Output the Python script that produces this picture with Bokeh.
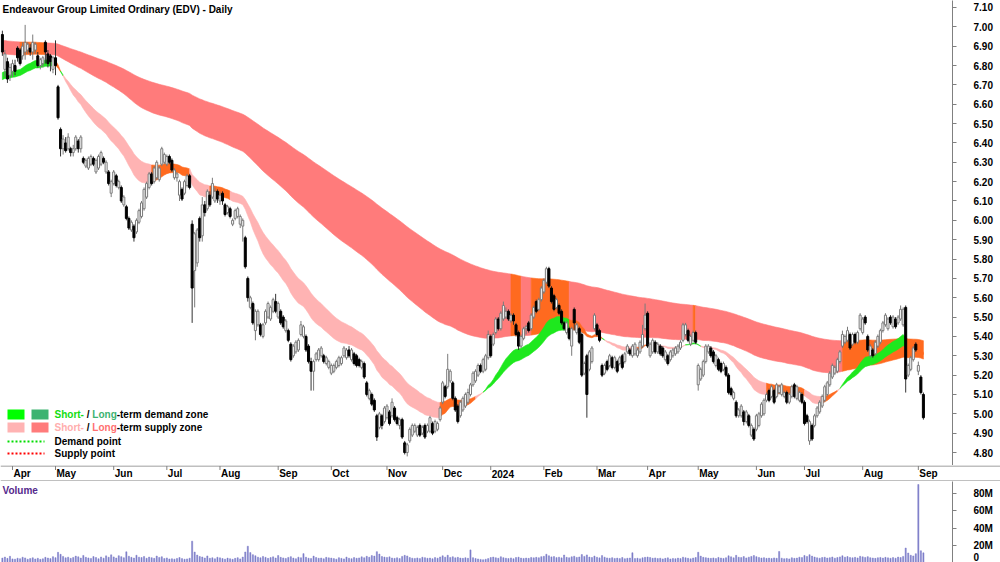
import pandas as pd
from bokeh.plotting import figure
from bokeh.models import Range1d, FixedTicker, NumeralTickFormatter, Label, Span
from bokeh.layouts import column
from bokeh.embed import file_html
from bokeh.resources import INLINE
from bokeh.core.properties import value

FONT = "Liberation Sans"
TITLE = "Endeavour Group Limited Ordinary (EDV) - Daily"

# ---------------- data (daily, 28 Mar 2023 .. 4 Sep 2024) ----------------
opens = [
    6.96, 6.78, 6.82, 6.75,
    6.77, 6.80, 6.89, 6.88, 6.85, 6.87, 6.88, 6.89, 6.87, 6.88, 6.85, 6.80, 6.81, 6.92, 6.86, 6.85, 6.78,
    6.84, 6.69, 6.47, 6.37, 6.40, 6.37, 6.37, 6.35, 6.37, 6.41, 6.37, 6.32, 6.28, 6.27, 6.29, 6.32, 6.25, 6.27, 6.29, 6.32, 6.25, 6.25, 6.14,
    6.19, 6.23, 6.17, 6.17, 6.08, 6.07, 6.01, 5.95, 5.97, 5.94, 5.99, 6.02, 6.06, 6.12, 6.17, 6.24, 6.20, 6.22, 6.21, 6.29, 6.30,
    6.29, 6.33, 6.31, 6.22, 6.22, 6.13, 6.16, 6.14, 6.18, 6.23, 5.98, 5.74, 5.78, 6.01, 5.92, 6.08, 6.06, 6.13, 6.12, 6.10, 6.15,
    6.10, 6.14, 6.08, 6.04, 6.06, 5.98, 6.01, 6.02, 5.98, 5.97, 5.91, 5.70, 5.55, 5.57, 5.43, 5.46, 5.46, 5.40, 5.47, 5.50, 5.49, 5.53, 5.58,
    5.50, 5.53, 5.50, 5.43, 5.43, 5.36, 5.30, 5.32, 5.33, 5.41, 5.40, 5.40, 5.35, 5.27, 5.22, 5.28, 5.28, 5.30, 5.30, 5.26, 5.24,
    5.21, 5.22, 5.24, 5.25, 5.26, 5.30, 5.29, 5.33, 5.28, 5.31, 5.30, 5.28, 5.24, 5.26, 5.16, 5.08, 5.10, 5.07, 4.99, 4.93, 4.99, 4.96,
    4.98, 5.01, 4.99, 5.03, 4.98, 4.94, 4.97, 4.85, 4.80, 4.86, 4.89, 4.91, 4.89, 4.94, 4.90, 4.94, 4.91, 4.91, 4.95, 4.91, 4.92, 4.97,
    5.06, 5.14, 5.14, 5.17, 5.16, 5.08, 5.04, 4.99, 5.02, 5.04, 5.06, 5.10, 5.15, 5.17, 5.20, 5.25, 5.22, 5.23, 5.29,
    5.40, 5.36, 5.42, 5.49, 5.44, 5.49, 5.50, 5.53, 5.48, 5.51, 5.46, 5.42, 5.35, 5.39, 5.44, 5.47, 5.44, 5.50, 5.58, 5.54, 5.59,
    5.63, 5.68, 5.75, 5.65, 5.61, 5.55, 5.56, 5.53, 5.47, 5.42, 5.44, 5.35, 5.54, 5.42, 5.44, 5.41, 5.21, 5.30, 5.23, 5.27, 5.44,
    5.46, 5.43, 5.25, 5.21, 5.27, 5.25, 5.29, 5.24, 5.27, 5.26, 5.30, 5.27, 5.32, 5.33, 5.30, 5.31, 5.30, 5.32, 5.35, 5.44,
    5.52, 5.30, 5.32, 5.37, 5.32, 5.35, 5.34, 5.28, 5.30, 5.28, 5.30, 5.31, 5.32, 5.34, 5.38, 5.41, 5.43, 5.36, 5.38, 5.42,
    5.15, 5.18, 5.20, 5.27, 5.32, 5.34, 5.32, 5.25, 5.28, 5.26, 5.23, 5.24, 5.20, 5.13, 5.08, 5.06, 4.99, 4.99, 5.01, 4.96, 4.99, 4.89, 4.92,
    4.92, 4.94, 4.99, 5.00, 5.07, 5.12, 5.09, 5.12, 5.09, 5.11, 5.10, 5.09, 5.11, 5.06, 5.09, 5.15, 5.08, 5.07, 5.10,
    5.06, 4.99, 4.86, 4.94, 4.94, 4.99, 5.01, 5.04, 5.07, 5.10, 5.15, 5.19, 5.21, 5.22, 5.27, 5.35, 5.37, 5.38, 5.41, 5.36, 5.41, 5.37, 5.44,
    5.42, 5.50, 5.40, 5.30, 5.33, 5.31, 5.35, 5.37, 5.43, 5.46, 5.44, 5.50, 5.45, 5.49, 5.47, 5.49, 5.46, 5.55, 5.20, 5.23, 5.28, 5.36,
    5.22, 5.19, 5.10,
]
highs = [
    6.98, 6.88, 6.84, 6.81,
    6.83, 6.83, 6.90, 6.89, 6.92, 7.01, 6.92, 6.91, 6.96, 6.92, 6.87, 6.84, 6.85, 6.93, 6.88, 6.86, 6.85,
    6.93, 6.70, 6.48, 6.44, 6.43, 6.45, 6.38, 6.39, 6.44, 6.42, 6.44, 6.33, 6.32, 6.33, 6.34, 6.33, 6.32, 6.34, 6.36, 6.33, 6.31, 6.26, 6.21,
    6.26, 6.24, 6.21, 6.18, 6.13, 6.08, 6.02, 6.00, 5.98, 6.01, 6.06, 6.10, 6.17, 6.20, 6.25, 6.25, 6.28, 6.31, 6.28, 6.38, 6.35,
    6.34, 6.34, 6.32, 6.27, 6.25, 6.21, 6.17, 6.21, 6.24, 6.24, 6.00, 5.94, 5.96, 6.02, 6.12, 6.10, 6.16, 6.15, 6.22, 6.17, 6.16,
    6.15, 6.15, 6.09, 6.08, 6.07, 6.01, 6.06, 6.07, 6.03, 6.01, 5.92, 5.71, 5.61, 5.58, 5.54, 5.54, 5.47, 5.47, 5.54, 5.58, 5.56, 5.60, 5.62,
    5.58, 5.54, 5.51, 5.49, 5.44, 5.37, 5.36, 5.38, 5.39, 5.48, 5.46, 5.41, 5.36, 5.29, 5.28, 5.32, 5.34, 5.35, 5.31, 5.30, 5.28,
    5.26, 5.26, 5.28, 5.30, 5.30, 5.35, 5.34, 5.35, 5.34, 5.32, 5.31, 5.29, 5.28, 5.27, 5.17, 5.13, 5.11, 5.08, 5.00, 5.01, 5.00, 5.04,
    5.05, 5.02, 5.08, 5.04, 4.99, 4.98, 4.98, 4.86, 4.85, 4.93, 4.95, 4.95, 4.94, 4.95, 4.94, 4.95, 4.95, 4.99, 4.96, 4.97, 4.96, 5.04,
    5.17, 5.15, 5.31, 5.23, 5.17, 5.09, 5.05, 5.07, 5.09, 5.11, 5.13, 5.16, 5.22, 5.23, 5.26, 5.26, 5.29, 5.31, 5.43,
    5.41, 5.42, 5.50, 5.50, 5.53, 5.58, 5.55, 5.54, 5.52, 5.52, 5.47, 5.43, 5.41, 5.45, 5.46, 5.48, 5.52, 5.56, 5.59, 5.60, 5.66,
    5.70, 5.76, 5.76, 5.66, 5.62, 5.60, 5.57, 5.54, 5.48, 5.48, 5.45, 5.45, 5.55, 5.47, 5.45, 5.42, 5.27, 5.31, 5.33, 5.35, 5.52,
    5.47, 5.44, 5.26, 5.26, 5.28, 5.31, 5.30, 5.30, 5.28, 5.30, 5.31, 5.32, 5.36, 5.34, 5.36, 5.37, 5.34, 5.38, 5.46, 5.57,
    5.53, 5.37, 5.39, 5.38, 5.37, 5.36, 5.35, 5.33, 5.31, 5.33, 5.34, 5.35, 5.36, 5.38, 5.47, 5.47, 5.44, 5.41, 5.43, 5.43,
    5.26, 5.24, 5.28, 5.36, 5.36, 5.35, 5.33, 5.31, 5.29, 5.27, 5.27, 5.25, 5.21, 5.14, 5.12, 5.07, 5.03, 5.05, 5.02, 5.02, 5.00, 4.95, 4.93,
    5.00, 5.01, 5.06, 5.08, 5.11, 5.13, 5.15, 5.13, 5.16, 5.15, 5.16, 5.12, 5.12, 5.11, 5.15, 5.16, 5.15, 5.12, 5.11,
    5.07, 5.00, 4.97, 4.95, 5.00, 5.04, 5.07, 5.10, 5.15, 5.17, 5.22, 5.26, 5.25, 5.29, 5.33, 5.43, 5.41, 5.45, 5.42, 5.42, 5.42, 5.43, 5.52,
    5.50, 5.51, 5.41, 5.36, 5.34, 5.38, 5.41, 5.44, 5.48, 5.52, 5.50, 5.51, 5.51, 5.50, 5.51, 5.56, 5.55, 5.56, 5.26, 5.30, 5.35, 5.37,
    5.27, 5.20, 5.11,
]
lows = [
    6.85, 6.74, 6.71, 6.72,
    6.74, 6.75, 6.82, 6.80, 6.83, 6.83, 6.86, 6.85, 6.83, 6.86, 6.79, 6.78, 6.79, 6.81, 6.79, 6.77, 6.76,
    6.75, 6.52, 6.33, 6.34, 6.35, 6.36, 6.33, 6.33, 6.36, 6.35, 6.35, 6.29, 6.27, 6.26, 6.28, 6.28, 6.24, 6.26, 6.28, 6.29, 6.24, 6.18, 6.12,
    6.18, 6.17, 6.16, 6.09, 6.07, 6.00, 5.95, 5.94, 5.89, 5.93, 5.98, 6.01, 6.05, 6.11, 6.16, 6.18, 6.19, 6.21, 6.20, 6.28, 6.29,
    6.28, 6.29, 6.25, 6.21, 6.20, 6.10, 6.10, 6.13, 6.17, 6.16, 5.47, 5.55, 5.76, 5.89, 5.89, 6.02, 6.05, 6.07, 6.11, 6.09, 6.09,
    6.08, 6.08, 6.02, 6.03, 6.01, 5.97, 6.00, 6.01, 5.96, 5.89, 5.75, 5.58, 5.54, 5.46, 5.38, 5.45, 5.40, 5.39, 5.46, 5.49, 5.48, 5.52, 5.52,
    5.49, 5.46, 5.44, 5.42, 5.37, 5.27, 5.29, 5.31, 5.32, 5.40, 5.39, 5.32, 5.26, 5.12, 5.12, 5.27, 5.27, 5.29, 5.26, 5.25, 5.23,
    5.20, 5.21, 5.23, 5.24, 5.25, 5.29, 5.28, 5.29, 5.27, 5.25, 5.24, 5.24, 5.23, 5.18, 5.09, 5.07, 5.04, 5.01, 4.86, 4.92, 4.92, 4.95,
    4.97, 4.94, 4.98, 4.96, 4.94, 4.92, 4.87, 4.79, 4.78, 4.85, 4.88, 4.90, 4.88, 4.88, 4.89, 4.87, 4.90, 4.90, 4.89, 4.90, 4.91, 4.96,
    5.05, 5.08, 5.13, 5.16, 5.07, 5.01, 4.95, 4.98, 5.01, 5.03, 5.05, 5.09, 5.14, 5.16, 5.19, 5.21, 5.21, 5.22, 5.28,
    5.29, 5.35, 5.41, 5.43, 5.43, 5.48, 5.49, 5.48, 5.47, 5.46, 5.40, 5.33, 5.34, 5.38, 5.41, 5.42, 5.43, 5.49, 5.52, 5.53, 5.58,
    5.62, 5.67, 5.65, 5.57, 5.53, 5.54, 5.51, 5.46, 5.43, 5.41, 5.38, 5.30, 5.43, 5.41, 5.36, 5.19, 5.20, 4.98, 5.22, 5.26, 5.43,
    5.40, 5.37, 5.19, 5.20, 5.22, 5.24, 5.23, 5.23, 5.21, 5.25, 5.23, 5.26, 5.31, 5.30, 5.29, 5.30, 5.29, 5.31, 5.34, 5.43,
    5.34, 5.29, 5.31, 5.31, 5.31, 5.30, 5.29, 5.27, 5.25, 5.27, 5.29, 5.30, 5.31, 5.33, 5.37, 5.40, 5.37, 5.35, 5.37, 5.36,
    5.12, 5.17, 5.19, 5.26, 5.31, 5.29, 5.26, 5.24, 5.22, 5.21, 5.22, 5.19, 5.10, 5.09, 5.07, 4.98, 4.98, 4.98, 4.94, 4.95, 4.93, 4.88, 4.86,
    4.91, 4.93, 4.98, 4.99, 5.06, 5.06, 5.08, 5.05, 5.08, 5.10, 5.09, 5.08, 5.05, 5.05, 5.08, 5.08, 5.07, 5.06, 5.05,
    4.94, 4.95, 4.84, 4.86, 4.93, 4.98, 5.00, 5.03, 5.06, 5.09, 5.14, 5.18, 5.20, 5.21, 5.26, 5.34, 5.36, 5.37, 5.33, 5.35, 5.36, 5.36, 5.43,
    5.41, 5.46, 5.32, 5.29, 5.29, 5.30, 5.34, 5.36, 5.42, 5.45, 5.43, 5.46, 5.44, 5.44, 5.46, 5.48, 5.45, 5.11, 5.19, 5.22, 5.27, 5.32,
    5.20, 5.10, 4.97,
]
closes = [
    6.87, 6.86, 6.73, 6.79,
    6.81, 6.77, 6.84, 6.81, 6.90, 6.92, 6.91, 6.87, 6.92, 6.91, 6.80, 6.83, 6.84, 6.87, 6.81, 6.82, 6.84,
    6.80, 6.53, 6.37, 6.42, 6.36, 6.43, 6.35, 6.37, 6.43, 6.37, 6.43, 6.30, 6.31, 6.32, 6.33, 6.29, 6.31, 6.33, 6.35, 6.30, 6.30, 6.19, 6.20,
    6.25, 6.18, 6.20, 6.10, 6.12, 6.01, 5.96, 5.99, 5.91, 6.00, 6.05, 6.09, 6.16, 6.19, 6.24, 6.19, 6.27, 6.30, 6.27, 6.37, 6.34,
    6.33, 6.30, 6.26, 6.26, 6.24, 6.20, 6.11, 6.20, 6.23, 6.17, 5.65, 5.93, 5.95, 5.91, 6.08, 6.04, 6.15, 6.08, 6.19, 6.15, 6.11,
    6.13, 6.10, 6.03, 6.07, 6.02, 6.00, 6.05, 6.06, 6.02, 6.00, 5.76, 5.60, 5.60, 5.47, 5.53, 5.53, 5.41, 5.46, 5.53, 5.57, 5.55, 5.59, 5.53,
    5.57, 5.47, 5.45, 5.48, 5.38, 5.28, 5.35, 5.37, 5.38, 5.46, 5.45, 5.33, 5.27, 5.22, 5.27, 5.31, 5.33, 5.34, 5.27, 5.29, 5.27,
    5.25, 5.25, 5.27, 5.29, 5.29, 5.34, 5.33, 5.30, 5.33, 5.26, 5.25, 5.25, 5.27, 5.19, 5.10, 5.12, 5.05, 5.02, 4.88, 5.00, 4.94, 5.03,
    5.04, 4.95, 5.06, 4.97, 4.95, 4.97, 4.88, 4.80, 4.84, 4.92, 4.94, 4.94, 4.93, 4.89, 4.93, 4.88, 4.94, 4.98, 4.90, 4.96, 4.95, 5.03,
    5.16, 5.09, 5.23, 5.22, 5.08, 5.02, 4.96, 5.06, 5.08, 5.10, 5.11, 5.15, 5.21, 5.22, 5.25, 5.22, 5.28, 5.30, 5.41,
    5.30, 5.41, 5.49, 5.44, 5.52, 5.56, 5.53, 5.49, 5.51, 5.48, 5.41, 5.35, 5.40, 5.44, 5.45, 5.43, 5.51, 5.55, 5.53, 5.59, 5.65,
    5.69, 5.75, 5.66, 5.58, 5.54, 5.59, 5.52, 5.47, 5.44, 5.47, 5.39, 5.44, 5.47, 5.46, 5.37, 5.20, 5.26, 5.10, 5.32, 5.34, 5.51,
    5.41, 5.38, 5.20, 5.25, 5.23, 5.30, 5.24, 5.29, 5.22, 5.29, 5.24, 5.31, 5.35, 5.31, 5.35, 5.36, 5.33, 5.37, 5.41, 5.51,
    5.35, 5.36, 5.38, 5.32, 5.36, 5.31, 5.30, 5.32, 5.26, 5.32, 5.33, 5.34, 5.35, 5.37, 5.46, 5.46, 5.38, 5.40, 5.42, 5.37,
    5.25, 5.23, 5.27, 5.35, 5.35, 5.30, 5.27, 5.30, 5.23, 5.22, 5.26, 5.20, 5.11, 5.10, 5.11, 4.99, 5.02, 5.04, 4.96, 5.01, 4.94, 4.94, 4.87,
    4.99, 5.00, 5.05, 5.07, 5.10, 5.07, 5.14, 5.06, 5.15, 5.14, 5.15, 5.11, 5.06, 5.10, 5.14, 5.09, 5.14, 5.11, 5.06,
    4.95, 4.96, 4.96, 4.87, 4.99, 5.03, 5.06, 5.09, 5.14, 5.16, 5.21, 5.25, 5.24, 5.28, 5.32, 5.41, 5.40, 5.43, 5.34, 5.41, 5.37, 5.42, 5.51,
    5.49, 5.47, 5.33, 5.35, 5.30, 5.37, 5.40, 5.43, 5.47, 5.51, 5.49, 5.47, 5.50, 5.45, 5.50, 5.54, 5.54, 5.18, 5.25, 5.29, 5.34, 5.33,
    5.25, 5.11, 4.98,
]
volume_m = [
    5.1, 6.3, 4.8, 7.2,
    4.2, 3.9, 5.0, 4.4, 6.1, 5.3, 3.8, 4.6, 5.5, 4.1, 4.9, 3.7, 4.3, 6.0, 5.2, 4.5, 6.8,
    5.6, 11.8, 9.5, 7.1, 5.4, 6.2, 4.8, 5.9, 7.4, 6.6, 5.1, 8.2, 6.0, 5.3, 4.7, 6.9, 5.8, 4.4, 6.4, 5.0, 7.7, 6.1, 8.9,
    6.5, 5.2, 7.9, 6.8, 5.5, 12.4, 7.3, 6.0, 5.1, 8.4, 6.2, 5.8, 7.0, 4.9, 6.3, 5.6, 4.8, 7.5, 5.9, 6.7, 4.6,
    5.3, 4.1, 4.4, 3.9, 4.7, 5.8, 4.5, 3.8, 4.2, 5.0, 24.8, 12.1, 8.6, 7.0, 6.4, 5.2, 7.6, 4.9, 5.5, 4.3, 6.1,
    5.4, 4.6, 3.9, 5.1, 4.4, 3.7, 4.8, 5.6, 4.2, 6.3, 12.2, 18.9, 11.5, 9.1, 7.8, 6.2, 5.5, 7.1, 6.0, 4.8, 5.7, 6.6, 5.2,
    8.1, 6.0, 5.3, 4.7, 5.9, 6.8, 5.1, 4.4, 6.2, 5.5, 10.3, 6.1, 5.0, 4.6, 7.4, 5.8, 4.9, 5.2, 4.3, 6.0, 5.4,
    5.1, 4.5, 3.9, 5.6, 4.8, 4.2, 6.3, 5.0, 4.4, 5.7, 4.9, 5.3, 6.6, 5.5, 7.2, 6.1, 8.0, 7.4, 12.6, 9.8, 7.0, 6.3,
    5.9, 6.6, 5.2, 4.8, 5.5, 4.6, 7.1, 8.3, 7.6, 5.8, 5.0, 4.7, 5.3, 4.5, 6.1, 5.6, 4.9, 5.2, 4.4, 5.7, 5.0, 6.4,
    7.8, 6.2, 8.4, 5.9, 6.7, 5.4, 6.0, 5.2, 4.8, 5.5, 4.9, 14.6, 5.6, 4.7, 4.1, 3.6, 3.2, 3.8, 4.5,
    5.8, 6.3, 5.5, 4.9, 6.7, 5.6, 5.0, 4.6, 5.3, 4.4, 5.8, 6.2, 5.1, 4.7, 5.2, 4.8, 5.9, 5.4, 6.0, 5.5, 6.8,
    7.2, 9.6, 7.8, 6.5, 6.9, 5.7, 6.2, 5.4, 8.7, 6.0, 5.5, 6.6, 7.3, 5.9, 6.4, 9.2, 7.1, 8.8, 6.3, 5.8, 7.5,
    6.1, 5.4, 8.0, 6.2, 5.3, 4.9, 5.6, 4.7, 5.1, 4.5, 5.8, 4.4, 4.9, 5.2, 11.3, 4.6, 5.0, 4.3, 5.5, 6.0,
    6.4, 5.8, 4.9, 5.3, 4.6, 5.0, 4.2, 4.8, 5.4, 4.1, 4.7, 4.4, 5.1, 4.6, 6.2, 5.5, 4.9, 4.3, 5.2, 5.8,
    11.9, 7.4, 6.0, 5.6, 5.1, 4.8, 5.3, 4.6, 5.9, 5.2, 4.7, 5.5, 7.8, 6.6, 5.4, 8.3, 6.1, 5.7, 6.9, 5.3, 6.2, 7.0, 8.1,
    6.8, 5.9, 5.2, 5.6, 4.8, 5.1, 4.6, 5.3, 4.9, 12.8, 5.0, 4.4, 4.7, 4.2, 5.5, 4.8, 5.1, 6.2, 5.7,
    8.2, 7.0, 9.1, 7.4, 6.3, 5.5, 5.0, 5.8, 6.1, 5.2, 5.6, 6.4, 5.0, 5.7, 6.5, 7.8, 6.2, 6.9, 5.8, 5.4, 6.0, 5.3, 7.2,
    6.6, 5.9, 6.8, 5.6, 5.2, 4.8, 5.5, 5.9, 5.1, 6.0, 5.4, 4.9, 5.7, 5.0, 6.3, 5.8, 7.1, 16.8, 11.0, 8.4, 7.6, 10.2,
    90.5, 13.6, 11.2,
]
# trading calendar (ASX public holidays removed)
holidays = ["2023-04-07", "2023-04-10", "2023-04-25", "2023-06-12", "2023-12-25", "2023-12-26",
            "2024-01-01", "2024-01-26", "2024-03-29", "2024-04-01", "2024-04-25", "2024-06-10"]
month_labels = ["Apr", "May", "Jun", "Jul", "Aug", "Sep", "Oct", "Nov", "Dec", "2024",
                "Feb", "Mar", "Apr", "May", "Jun", "Jul", "Aug", "Sep"]
price_ticks = [4.8, 4.9, 5.0, 5.1, 5.2, 5.3, 5.4, 5.5, 5.6, 5.7, 5.8, 5.9, 6.0, 6.1,
               6.2, 6.3, 6.4, 6.5, 6.6, 6.7, 6.8, 6.9, 7.0, 7.1]
volume_ticks = [0, 20, 40, 60, 80]
volume_tick_labels = ["0", "20M", "40M", "60M", "80M"]

# zone model: seed levels of the bands on the first day and their EMA lengths
short_fast_seed, short_slow_seed = 6.755, 6.72
long_fast_seed, long_slow_seed = 6.86, 6.93
SHORT_FAST, SHORT_SLOW, LONG_FAST, LONG_SLOW = 26, 42, 120, 220
# days (index, 0 = 3 Apr 2023) on which each zone is shown as being tested (orange)
long_test_days = [(3, 12), (197, 200), (205, 219), (269, 269), (328, 360)]
short_test_days = [(16, 18), (55, 69), (78, 85), (169, 182), (220, 232), (247, 252),
                   (298, 312), (320, 325), (353, 360)]

# ---------------- derived ----------------
n = min(len(opens), len(highs), len(lows), len(closes), len(volume_m))
opens, highs, lows, closes, volume_m = opens[:n], highs[:n], lows[:n], closes[:n], volume_m[:n]
hol = set(pd.to_datetime(holidays))
dates = [d for d in pd.bdate_range("2023-03-28", "2024-09-30") if d not in hol][:n]
xs = [i - 4 for i in range(n)]  # 0 = first trading day of April 2023

month_idx = []
for k in range(1, n):
    if dates[k].month != dates[k - 1].month:
        month_idx.append(xs[k])
month_idx = month_idx[:len(month_labels)]


def ema(vals, length, seed):
    a = 2.0 / (length + 1)
    v = seed
    out = []
    for c in vals:
        v = v + a * (c - v)
        out.append(v)
    return out


sf = ema(closes, SHORT_FAST, short_fast_seed)
ss = ema(closes, SHORT_SLOW, short_slow_seed)
lf = ema(closes, LONG_FAST, long_fast_seed)
ls = ema(closes, LONG_SLOW, long_slow_seed)

C_SHORT_DEM = "#1ee81e"
C_LONG_DEM = "#3cb371"
C_SHORT_SUP = "#ffb3b3"
C_LONG_SUP = "#ff7b7b"
C_TEST = "#ff6a1f"

# ---------------- geometry ----------------
FRAME_W, PRICE_H, STRIP_H, VOL_H = 952, 465, 16, 81
X0 = -4.74
X1 = 371.5
SX = FRAME_W / (X1 - X0)
Y0, Y1 = 4.733, 7.136
SY = PRICE_H / (Y1 - Y0)


def px(xp):
    return X0 + xp / SX


def py(yp):
    return Y1 - yp / SY


def in_ranges(xv, ranges):
    return any(a <= xv <= b for a, b in ranges)


def band_runs(fast, slow, dem_col, sup_col, tests):
    cols = []
    for i in range(n):
        if in_ranges(xs[i], tests):
            cols.append(C_TEST)
        elif fast[i] >= slow[i]:
            cols.append(dem_col)
        else:
            cols.append(sup_col)
    pxs, pys, pcs = [], [], []
    j = 0
    while j < n:
        k = j
        while k + 1 < n and cols[k + 1] == cols[j]:
            k += 1
        end = min(k + 1, n - 1)
        seg = list(range(j, end + 1))
        xx = [xs[t] for t in seg]
        if len(seg) == 1:
            seg = [j, j]
            xx = [xs[j] - 0.5, xs[j] + 0.5]
        top = [max(fast[t], slow[t]) for t in seg]
        bot = [min(fast[t], slow[t]) for t in seg]
        pxs.append(xx + xx[::-1])
        pys.append(top + bot[::-1])
        pcs.append(cols[j])
        j = k + 1
    return pxs, pys, pcs


# ---------------- price panel ----------------
p = figure(frame_width=FRAME_W, frame_height=PRICE_H, x_range=Range1d(X0, X1), y_range=Range1d(Y0, Y1),
           y_axis_location="right", x_axis_location=None, toolbar_location=None, output_backend="svg",
           min_border_left=0, min_border_top=0, min_border_bottom=0, min_border_right=0)
p.outline_line_color = None
p.xgrid.visible = False
p.ygrid.visible = False
p.background_fill_color = "white"
p.border_fill_color = "white"

ax = p.yaxis[0]
ax.ticker = FixedTicker(ticks=price_ticks)
ax.formatter = NumeralTickFormatter(format="0.00")
ax.axis_line_color = "#808080"
ax.major_tick_line_color = "#808080"
ax.major_tick_out = 4
ax.major_tick_in = 0
ax.minor_tick_line_color = None
ax.major_label_standoff = 17
ax.major_label_text_font = FONT
ax.major_label_text_font_size = "10px"
ax.major_label_text_font_style = "bold"
ax.major_label_text_color = "#000000"

bx, by, bc = band_runs(lf, ls, C_LONG_DEM, C_LONG_SUP, long_test_days)
p.patches(bx, by, fill_color=bc, line_color=bc, line_width=0.6)
sx_, sy_, sc_ = band_runs(sf, ss, C_SHORT_DEM, C_SHORT_SUP, short_test_days)
p.patches(sx_, sy_, fill_color=sc_, line_color=sc_, line_width=0.6)

up = [closes[i] >= opens[i] for i in range(n)]
wick_col = ["#7a7a7a" if u else "#333333" for u in up]
p.segment(x0=xs, y0=highs, x1=xs, y1=lows, line_color=wick_col, line_width=1)
body_top = [max(opens[i], closes[i]) for i in range(n)]
body_bot = [min(opens[i], closes[i]) for i in range(n)]
p.vbar(x=xs, width=0.8, top=body_top, bottom=body_bot,
       fill_color=["white" if u else "black" for u in up],
       line_color=["#7a7a7a" if u else "black" for u in up], line_width=1)

p.add_layout(Label(x=2, y=PRICE_H - 3, x_units="screen", y_units="screen", text=TITLE,
                   text_font=FONT, text_font_size="10px", text_font_style="bold",
                   text_baseline="top", text_color="#000000"))

# legend (drawn as glyphs + text)
rows = [414, 427, 441, 453]
p.quad(left=[px(7), px(31)], right=[px(24), px(48)], top=[py(409), py(409)], bottom=[py(419), py(419)],
       fill_color=["#00ff00", C_LONG_DEM], line_color=None)
p.quad(left=[px(7), px(31)], right=[px(24), px(48)], top=[py(422), py(422)], bottom=[py(432), py(432)],
       fill_color=[C_SHORT_SUP, C_LONG_SUP], line_color=None)
p.line(x=[px(7), px(44)], y=[py(441), py(441)], line_color="#00dd00", line_width=2, line_dash="2 2")
p.line(x=[px(7), px(44)], y=[py(453), py(453)], line_color="#ff0000", line_width=2, line_dash="2 2")
pieces = [
    (rows[0], 0.0, "Short-", "#11dd11"), (rows[0], 32.2, "/", "#000000"),
    (rows[0], 37.8, "Long", C_LONG_DEM), (rows[0], 62.2, "-term demand zone", "#000000"),
    (rows[1], 0.0, "Short-", "#ffadad"), (rows[1], 32.2, "/", "#000000"),
    (rows[1], 37.8, "Long", "#ff7070"), (rows[1], 62.2, "-term supply zone", "#000000"),
    (rows[2], 0.0, "Demand point", "#000000"), (rows[3], 0.0, "Supply point", "#000000"),
]
p.text(x=[px(54 + q[1]) for q in pieces], y=[py(q[0]) for q in pieces], text=[q[2] for q in pieces],
       text_color=[q[3] for q in pieces], text_font=value(FONT), text_font_size="10px",
       text_font_style="bold", text_baseline="middle", text_align="left")

# ---------------- date strip ----------------
STRIP_W = 1000
s = figure(frame_width=STRIP_W, frame_height=STRIP_H, x_range=Range1d(X0, X0 + STRIP_W / SX),
           y_range=Range1d(0, STRIP_H), x_axis_location=None, y_axis_location=None,
           toolbar_location=None, output_backend="svg",
           min_border_left=0, min_border_top=0, min_border_bottom=0, min_border_right=0)
s.outline_line_color = None
s.xgrid.visible = False
s.ygrid.visible = False
s.add_layout(Span(location=STRIP_H - 0.5, dimension="width", line_color="#808080", line_width=1))
s.add_layout(Span(location=0.5, dimension="width", line_color="#808080", line_width=1))
s.segment(x0=month_idx, y0=[STRIP_H - 0.5] * len(month_idx), x1=month_idx, y1=[STRIP_H - 4.5] * len(month_idx),
          line_color="#808080", line_width=1)
s.text(x=[m + 1.0 / SX for m in month_idx], y=[STRIP_H / 2.0] * len(month_idx),
       text=month_labels[:len(month_idx)], text_font=value(FONT), text_font_size="10px",
       text_font_style="bold", text_baseline="middle", text_align="left", text_color="#000000")

# ---------------- volume panel ----------------
v = figure(frame_width=FRAME_W, frame_height=VOL_H, x_range=Range1d(X0, X1), y_range=Range1d(0, 94),
           y_axis_location="right", x_axis_location=None, toolbar_location=None, output_backend="svg",
           min_border_left=0, min_border_top=0, min_border_bottom=0, min_border_right=0)
v.outline_line_color = None
v.xgrid.visible = False
v.ygrid.visible = False
va = v.yaxis[0]
va.ticker = FixedTicker(ticks=volume_ticks)
va.major_label_overrides = {t: lab for t, lab in zip(volume_ticks, volume_tick_labels)}
va.axis_line_color = "#808080"
va.major_tick_line_color = "#808080"
va.major_tick_out = 4
va.major_tick_in = 0
va.minor_tick_line_color = None
va.major_label_standoff = 17
va.major_label_text_font = FONT
va.major_label_text_font_size = "10px"
va.major_label_text_font_style = "bold"
va.major_label_text_color = "#000000"
v.vbar(x=xs, width=0.45, top=volume_m, bottom=0, fill_color="#7c7cc8", line_color="#7c7cc8", line_width=0.5)
v.add_layout(Label(x=2, y=VOL_H - 9, x_units="screen", y_units="screen", text="Volume",
                   text_font=FONT, text_font_size="10px", text_font_style="bold",
                   text_baseline="middle", text_color="#55288c"))

layout = column(p, s, v, spacing=0)
open("out.html", "w").write(file_html(layout, INLINE, title=TITLE))
